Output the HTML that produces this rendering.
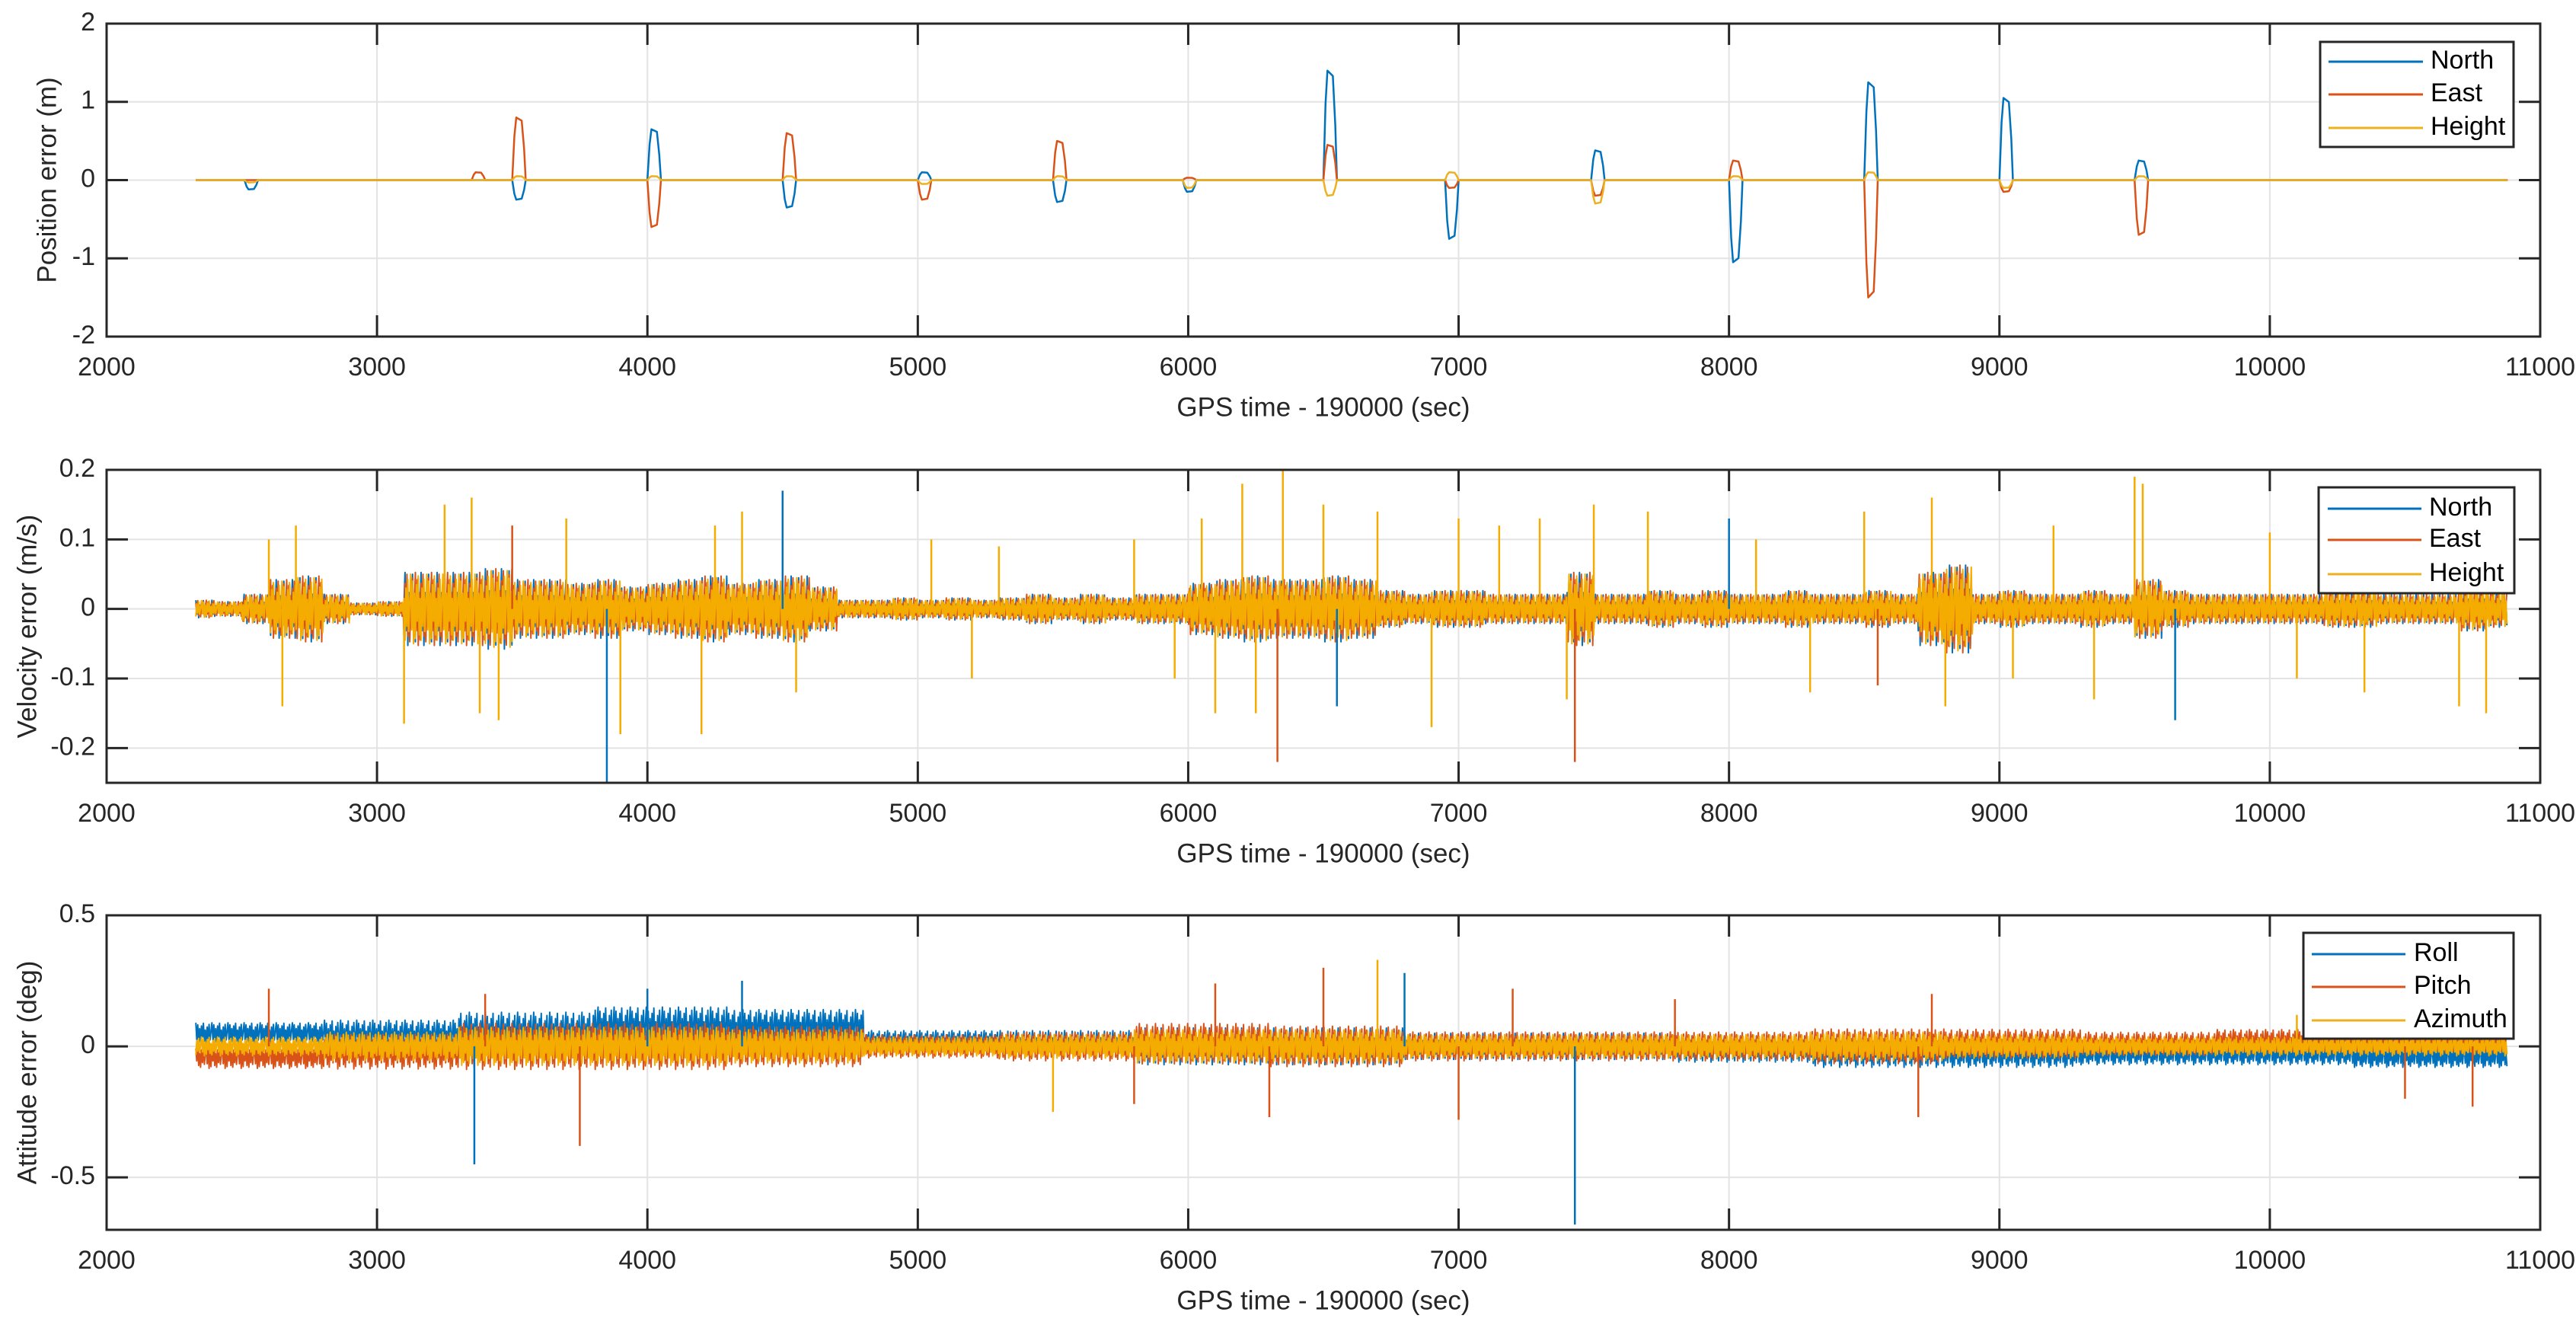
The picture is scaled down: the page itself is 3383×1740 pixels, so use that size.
<!DOCTYPE html>
<html><head><meta charset="utf-8"><style>
html,body{margin:0;padding:0;background:#fff;}
svg{display:block;}
text{font-family:"Liberation Sans",Arial,sans-serif;fill:#262626;}
</style></head>
<body>
<svg id="fig" width="3383" height="1740" viewBox="0 0 3383 1740" xmlns="http://www.w3.org/2000/svg"></svg>
<script>
// ---------- DATA ----------
const xTicks=[2000,3000,4000,5000,6000,7000,8000,9000,10000,11000];
const posYTicks=[-2,-1,0,1,2];
const velYTicks=[-0.2,-0.1,0,0.1,0.2];
const attYTicks=[-0.5,0,0.5];
const posSeries=["North","East","Height"];
const attSeries=["Roll","Pitch","Azimuth"];
// position events
const posEventTimes=[2540,3380,3530,4030,4530,5030,5530,6010,6530,6980,7520,8030,8530,9030,9530];
const posNorth=[-0.12,0,-0.25,0.65,-0.35,0.1,-0.28,-0.15,1.4,-0.75,0.38,-1.05,1.25,1.05,0.25];
const posEast=[0,0.1,0.8,-0.6,0.6,-0.25,0.5,0.03,0.45,-0.1,-0.2,0.25,-1.5,-0.15,-0.7];
const posHeight=[-0.03,0,0.05,0.05,0.05,-0.05,0.05,-0.1,-0.2,0.1,-0.3,0.05,0.1,-0.1,0.05];
// velocity noise envelope per 100 s bin starting at 2300
const velAmp=[0.012,0.01,0.02,0.04,0.045,0.02,0.008,0.01,0.05,0.05,0.05,0.055,0.04,0.04,0.035,0.04,0.03,0.035,0.04,0.045,0.035,0.04,0.045,0.03,0.012,0.012,0.015,0.012,0.015,0.012,0.015,0.02,0.015,0.02,0.015,0.02,0.02,0.035,0.04,0.045,0.04,0.04,0.045,0.04,0.025,0.02,0.025,0.025,0.02,0.02,0.02,0.05,0.02,0.02,0.025,0.02,0.025,0.02,0.02,0.025,0.02,0.02,0.025,0.02,0.05,0.06,0.02,0.025,0.02,0.02,0.025,0.02,0.04,0.025,0.02,0.02,0.02,0.02,0.02,0.025,0.025,0.02,0.02,0.02,0.03,0.025];
const velSpikeTimes=[2600,2650,2700,3100,3250,3350,3380,3450,3500,3700,3850,3900,4200,4250,4350,4500,4550,5050,5200,5300,5800,5950,6050,6100,6200,6250,6350,6330,6500,6550,6700,6900,7000,7150,7300,7400,7430,7500,7700,8000,8100,8300,8500,8550,8750,8800,9050,9200,9350,9500,9530,9650,10000,10100,10350,10700,10800];
const velSpikeValues=[0.1,-0.14,0.12,-0.165,0.15,0.16,-0.15,-0.16,0.12,0.13,-0.25,-0.18,-0.18,0.12,0.14,0.17,-0.12,0.1,-0.1,0.09,0.1,-0.1,0.13,-0.15,0.18,-0.15,0.2,-0.22,0.15,-0.14,0.14,-0.17,0.13,0.12,0.13,-0.13,-0.22,0.15,0.14,0.13,0.1,-0.12,0.14,-0.11,0.16,-0.14,-0.1,0.12,-0.13,0.19,0.18,-0.16,0.11,-0.1,-0.12,-0.14,-0.15];
const velSpikeSeries=[2,2,2,2,2,2,2,2,1,2,0,2,2,2,2,0,2,2,2,2,2,2,2,2,2,2,2,1,2,0,2,2,2,2,2,2,1,2,2,0,2,2,2,1,2,2,2,2,2,2,2,0,2,2,2,2,2];
// attitude per 500 s bin starting at 2300
const attRollMean=[0.05,0.04,0.05,0.07,0.07,0.02,0.01,0,0,0,0,-0.01,-0.02,-0.03,-0.03,-0.03,-0.04,-0.04];
const attPitchMean=[-0.04,-0.02,0,0,0,0,0,0.01,0,0,0,0,0,0.01,0.01,0.02,0.02,0.02];
const attAzMean=[0,0,0,0,0,0,0,0,0,0,0,0,0,0,0,0,0,0];
const attAmp=[0.04,0.06,0.08,0.08,0.07,0.04,0.05,0.07,0.07,0.05,0.05,0.05,0.06,0.05,0.04,0.04,0.04,0.04];
const attSpikeTimes=[2600,3360,3400,3750,4000,4350,5500,5800,6100,6300,6500,6700,6800,7000,7200,7430,7800,8700,8750,10100,10500,10750];
const attSpikeValues=[0.22,-0.45,0.2,-0.38,0.22,0.25,-0.25,-0.22,0.24,-0.27,0.3,0.33,0.28,-0.28,0.22,-0.68,0.18,-0.27,0.2,0.12,-0.2,-0.23];
const attSpikeSeries=[1,0,1,1,0,0,2,1,1,1,1,2,0,1,1,0,1,1,1,2,1,1];

// ---------- RENDER ----------
const NS="http://www.w3.org/2000/svg";
const svg=document.getElementById('fig');
const colors=["#0072BD","#D95319","#EDB120"];
const denseColors=["#0072BD","#D95319","#F4AC00"];
const X0=140,X1=3336,TMIN=2000,TMAX=11000;
const xs=t=>X0+(t-TMIN)/(TMAX-TMIN)*(X1-X0);
const pat=[1,-0.6,0.8,-1,0.45,-0.85,0.7,-0.35,0.95,-0.75,0.3,-0.9,0.6,-0.5,0.85,-0.65,0.2];
function el(tag,attrs,parent){const e=document.createElementNS(NS,tag);for(const k in attrs)e.setAttribute(k,attrs[k]);(parent||svg).appendChild(e);return e;}

const panels=[
 {key:'position',top:31,bot:442,ymin:-2,ymax:2,yt:posYTicks,label:'Position error (m)',lx:64,names:posSeries,leg:{x:3047,y:55,w:254,h:138,rows:[81,124,168],lx0:3058,lx1:3182,tx:3192}},
 {key:'velocity',top:617,bot:1028,ymin:-0.25,ymax:0.2,yt:velYTicks,label:'Velocity error (m/s)',lx:38,names:posSeries,leg:{x:3045,y:640,w:257,h:139,rows:[668,709,754],lx0:3057,lx1:3180,tx:3190}},
 {key:'attitude',top:1202,bot:1615,ymin:-0.7,ymax:0.5,yt:attYTicks,label:'Attitude error (deg)',lx:38,names:attSeries,leg:{x:3025,y:1225,w:276,h:139,rows:[1253,1296,1340],lx0:3036,lx1:3159,tx:3170}}
];

panels.forEach((p,pi)=>{
  const ys=v=>p.bot-(v-p.ymin)/(p.ymax-p.ymin)*(p.bot-p.top);
  const g=el('g',{});
  
  
  el('rect',{x:X0,y:p.top,width:X1-X0,height:p.bot-p.top,fill:'#fff'},g);
  xTicks.forEach(t=>{const l=el('line',{x1:xs(t),x2:xs(t),y1:p.top,y2:p.bot,stroke:'#e3e3e3','stroke-width':2},g);
    });
  p.yt.forEach(v=>{const l=el('line',{x1:X0,x2:X1,y1:ys(v),y2:ys(v),stroke:'#e3e3e3','stroke-width':2},g);
    });
  const cp=el('clipPath',{id:'clip'+pi},g);el('rect',{x:X0,y:p.top,width:X1-X0,height:p.bot-p.top},cp);
  const dg=el('g',{'clip-path':'url(#clip'+pi+')'},g);
  
  
  if(pi===0){
    const arrs=[posNorth,posEast,posHeight];
    arrs.forEach((arr,s)=>{
      let pts=[[2330,0]];
      posEventTimes.forEach((t,i)=>{const v=arr[i];if(v!==0){pts.push([t-30,0],[t-22,v*0.7],[t-15,v],[t+5,v*0.95],[t+14,v*0.5],[t+20,0]);}});
      pts.push([10880,0]);
      const d=pts.map((q,i)=>(i?'L':'M')+xs(q[0]).toFixed(1)+' '+ys(q[1]).toFixed(1)).join(' ');
      const path=el('path',{d:d,fill:'none',stroke:colors[s],'stroke-width':2.5,'stroke-linejoin':'round'},dg);
      
      
    });
  } else {
    const isVel=pi===1;
    const scale=isVel?[1.05,1.05,1.0]:[1.0,1.1,0.9];
    const offs=[0,6,11];
    for(let s=0;s<3;s++){
      let d='';let i=0;
      for(let t=2330;t<=10880;t+=3.5,i++){
        let amp,mean=0;
        if(isVel){amp=velAmp[Math.min(velAmp.length-1,Math.floor((t-2300)/100))];}
        else{const b=Math.min(attAmp.length-1,Math.floor((t-2300)/500));amp=attAmp[b];mean=[attRollMean,attPitchMean,attAzMean][s][b];}
        const v=mean+pat[(i+offs[s])%pat.length]*amp*scale[s];
        d+=(i?'L':'M')+xs(t).toFixed(1)+' '+ys(v).toFixed(1);
      }
      const path=el('path',{d:d,fill:'none',stroke:denseColors[s],'stroke-width':2,'stroke-linejoin':'round'},dg);
      
      
    }
    const st=isVel?velSpikeTimes:attSpikeTimes, sv=isVel?velSpikeValues:attSpikeValues, ss=isVel?velSpikeSeries:attSpikeSeries;
    st.forEach((t,i)=>{
      const l=el('line',{x1:xs(t),x2:xs(t),y1:ys(0),y2:ys(sv[i]),stroke:denseColors[ss[i]],'stroke-width':2.5},dg);
      
      
    });
  }
  const box=el('rect',{x:X0,y:p.top,width:X1-X0,height:p.bot-p.top,fill:'none',stroke:'#262626','stroke-width':3},g);
  
  xTicks.forEach(t=>{
    el('line',{x1:xs(t),x2:xs(t),y1:p.bot,y2:p.bot-28,stroke:'#262626','stroke-width':3},g);
    el('line',{x1:xs(t),x2:xs(t),y1:p.top,y2:p.top+28,stroke:'#262626','stroke-width':3},g);
    const tx=el('text',{x:xs(t),y:p.bot+42,'font-size':34,'text-anchor':'middle','dominant-baseline':'middle'},g);
    tx.textContent=t;
  });
  p.yt.forEach(v=>{
    el('line',{x1:X0,x2:X0+28,y1:ys(v),y2:ys(v),stroke:'#262626','stroke-width':3},g);
    el('line',{x1:X1,x2:X1-28,y1:ys(v),y2:ys(v),stroke:'#262626','stroke-width':3},g);
    const tx=el('text',{x:125,y:ys(v),'font-size':34,'text-anchor':'end','dominant-baseline':'middle'},g);
    tx.textContent=String(v);
  });
  const xl=el('text',{x:(X0+X1)/2,y:p.bot+95,'font-size':35,'text-anchor':'middle','dominant-baseline':'middle'},g);
  xl.textContent='GPS time - 190000 (sec)';
  const cy=(p.top+p.bot)/2;
  const yl=el('text',{x:p.lx,y:cy,'font-size':35,'text-anchor':'middle','dominant-baseline':'middle',transform:'rotate(-90 '+p.lx+' '+cy+')'},g);
  yl.textContent=p.label;
  const L=p.leg;
  const lg=el('g',{},g);
  
  el('rect',{x:L.x,y:L.y,width:L.w,height:L.h,fill:'#fff',stroke:'#262626','stroke-width':3},lg);
  p.names.forEach((n,s)=>{
    const e=el('g',{},lg);
    
    
    el('line',{x1:L.lx0,x2:L.lx1,y1:L.rows[s],y2:L.rows[s],stroke:colors[s],'stroke-width':3},e);
    const tx=el('text',{x:L.tx,y:L.rows[s],'font-size':34,'dominant-baseline':'middle',style:'fill:#000'},e);
    tx.textContent=n;
  });
});
</script>
</body></html>
